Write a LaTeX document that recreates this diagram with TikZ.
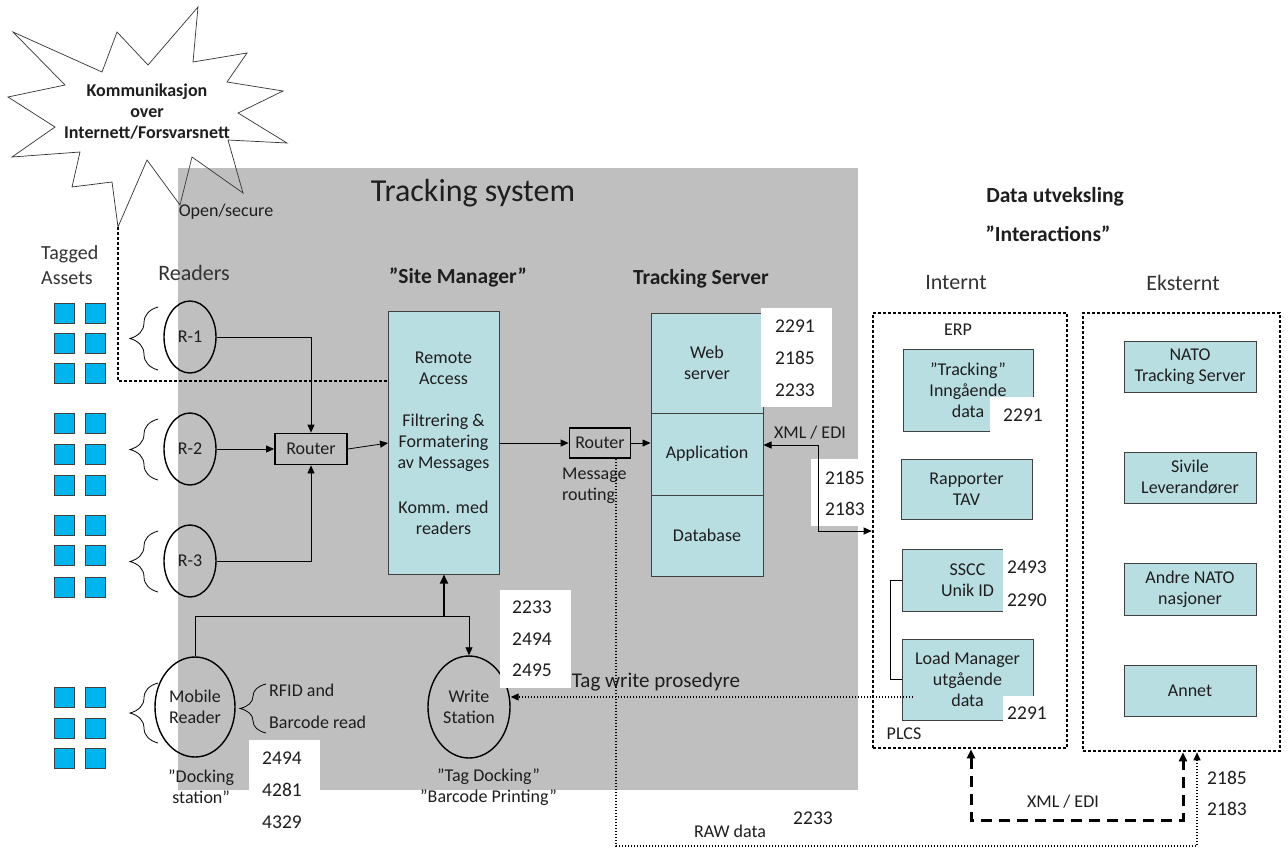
\documentclass[tikz,border=0pt]{standalone}
\usepackage{fontspec}
\setmainfont{Carlito}
\usetikzlibrary{shapes.geometric,arrows.meta,decorations.pathreplacing}

\definecolor{grayc}{RGB}{191,191,191}
\definecolor{boxc}{RGB}{185,222,226}
\definecolor{assetc}{RGB}{0,180,238}
\definecolor{inkc}{RGB}{30,30,30}

\tikzset{
  txt/.style={font=\fontsize{18}{21}\selectfont, align=center, inner sep=0pt, text=inkc},
  btxt/.style={font=\bfseries\fontsize{21.5}{25}\selectfont, align=center, inner sep=0pt, text=inkc},
  big/.style={font=\fontsize{22}{25}\selectfont, align=left, inner sep=0pt, text=black!80},
  num/.style={font=\fontsize{19.5}{21}\selectfont, inner sep=0pt, text=inkc},
  cbox/.style={draw=black!75, fill=boxc, line width=1pt, inner sep=0pt, txt},
  asset/.style={draw=black!75, fill=assetc, line width=0.8pt, minimum size=20pt, inner sep=0pt},
  rdr/.style={ellipse, draw=black, line width=1.4pt, inner sep=0pt, txt},
  rtr/.style={draw=black, line width=1.8pt, fill=grayc, inner sep=0pt, txt},
  arr/.style={-{Triangle[length=8pt,width=7pt]}, line width=0.8pt},
  twoarr/.style={{Triangle[length=8pt,width=7pt]}-{Triangle[length=8pt,width=7pt]}, line width=0.8pt},
  link/.style={line width=0.8pt},
  zone/.style={draw=black, line width=2.6pt, dash pattern=on 2.6pt off 2.4pt, inner sep=0pt},
  netdots/.style={line width=2.8pt, dash pattern=on 2.6pt off 2.4pt},
  finedots/.style={line width=1.2pt, dash pattern=on 1.4pt off 1.6pt},
  heavydash/.style={line width=3pt, dash pattern=on 11pt off 7pt,
    {Triangle[length=9pt,width=8pt]}-{Triangle[length=9pt,width=8pt]}},
  patch/.style={fill=white, draw=none, inner sep=0pt, outer sep=0pt, anchor=north west},
  grp/.style={decorate, decoration={brace, amplitude=28pt}, line width=0.8pt},
  grpsmall/.style={decorate, decoration={brace, amplitude=26pt}, line width=0.8pt}
}

\begin{document}
\begin{tikzpicture}[x=1pt,y=-1pt]
\useasboundingbox (0,0) rectangle (1288,847);
\fill[white] (0,0) rectangle (1288,847);

% tracking system area
\node[fill=grayc, draw=none, minimum width=680, minimum height=622, inner sep=0pt, anchor=north west] (sys) at (178,168) {};
\node[font=\fontsize{32}{36}\selectfont, text=inkc, inner sep=0pt] (systitle) at (473,193) {Tracking system};

% network cloud
\draw[line width=0.7pt, black!80] (13,32) -- (102,72) -- (117,32) -- (148,65) -- (198,7) -- (193,62)
  -- (247,53) -- (227,82) -- (283,91) -- (238,113) -- (287,143) -- (228,140) -- (243,193)
  -- (192,157) -- (180,205) -- (147,160) -- (118,227) -- (112,182) -- (72,187) -- (80,152)
  -- (12,157) -- (55,127) -- (8,97) -- (65,85) -- cycle;
\coordinate (startip) at (118,227);
\node[btxt, font=\bfseries\fontsize{18}{21}\selectfont] (cloud) at (147,112) {Kommunikasjon\\over\\Internett/Forsvarsnett};
\node[txt] (opensec) at (226,212) {Open/secure};

% headings
\node[big, font=\fontsize{20}{25}\selectfont, anchor=west] (tagged) at (41,265) {Tagged\\Assets};
\node[big] (readers) at (194,273) {Readers};
\node[btxt] (smtitle) at (458,277) {”Site Manager”};
\node[btxt] (tstitle) at (701,279) {Tracking Server};
\node[btxt] (dx) at (1055,197) {Data utveksling};
\node[btxt] (inter) at (1048,234) {”Interactions”};
\node[big] (interntl) at (956,283) {Internt};
\node[big] (eksterntl) at (1183,283) {Eksternt};

% tagged assets
\foreach \r [count=\i] in {313,343,373,423,454,485,525,555,587,697,728,758} {
  \node[asset] (a\i l) at (64,\r) {};
  \node[asset] (a\i r) at (95,\r) {};
}

% readers
\node[rdr, minimum width=52, minimum height=72] (r1) at (190,337) {R-1};
\node[rdr, minimum width=52, minimum height=72] (r2) at (190,449) {R-2};
\node[rdr, minimum width=52, minimum height=72] (r3) at (190,561) {R-3};
\node[rdr, minimum width=80, minimum height=100] (mobile) at (195,707) {Mobile\\Reader};
\node[rdr, minimum width=82, minimum height=102] (write) at (469,707) {Write\\Station};

\draw[grp] (158,370) -- (158,307);
\draw[grp] (158,480) -- (158,419);
\draw[grp] (158,592) -- (158,531);
\draw[grp] (158,743) -- (158,683);
\draw[grpsmall] (266,733) -- (266,684);

\node[txt, anchor=west] (rfid) at (269,690) {RFID and};
\node[txt, anchor=west] (bcr) at (269,722) {Barcode read};
\node[txt, anchor=west] (dock) at (168,787) {”Docking\\station”};
\node[txt, anchor=west] (tagdock) at (420,787) {”Tag Docking”\\”Barcode Printing”};

% routers and site manager
\node[rtr, minimum width=72, minimum height=31] (rt1) at (311,449) {Router};
\node[cbox, minimum width=111, minimum height=263] (sm) at (443.5,442.5) {};
\node[txt] (smra) at (443.5,368) {Remote\\Access};
\node[txt] (smff) at (443.5,443) {Filtrering \&\\Formatering\\av Messages};
\node[txt] (smkm) at (443.5,517.5) {Komm. med\\readers};
\node[rtr, minimum width=61, minimum height=30] (rt2) at (600,443) {Router};
\node[txt, align=left, anchor=west] (msgr) at (562,486) {Message\\routing};

% tracking server
\node[cbox, minimum width=112, minimum height=100] (web) at (707,363) {Web\\server};
\node[cbox, minimum width=112, minimum height=82] (app) at (707,454) {Application};
\node[cbox, minimum width=112, minimum height=81] (db) at (707,535.5) {Database};

% port number patches
\node[patch, minimum width=71, minimum height=99] (p1) at (761,308) {};
\node[num] (n11) at (795,326) {2291};
\node[num] (n12) at (795,358) {2185};
\node[num] (n13) at (795,390) {2233};
\node[patch, minimum width=55, minimum height=67] (p2) at (811,459) {};
\node[num] (n21) at (845,478) {2185};
\node[num] (n22) at (845,509) {2183};
\node[patch, minimum width=71, minimum height=98] (p3) at (500,590) {};
\node[num] (n31) at (532,607) {2233};
\node[num] (n32) at (532,639) {2494};
\node[num] (n33) at (532,670) {2495};
\node[patch, minimum width=71, minimum height=50] (p4) at (249,740) {};
\node[num] (n41) at (282,758) {2494};
\node[num] (n42) at (282,790) {4281};
\node[num] (n43) at (282,822) {4329};

% internal and external zones
\node[zone, minimum width=194, minimum height=435] (intbox) at (970,530.5) {};
\node[zone, minimum width=197, minimum height=438] (extbox) at (1181.5,532) {};
\node[txt] (erp) at (958,330) {ERP};
\node[txt] (plcs) at (904,734) {PLCS};

\node[cbox, minimum width=130, minimum height=82] (trk) at (968,390) {”Tracking”\\Inngående\\data};
\node[cbox, minimum width=131, minimum height=60] (rap) at (966.5,489) {Rapporter\\TAV};
\node[cbox, minimum width=131, minimum height=62] (sscc) at (967.5,580) {SSCC\\Unik ID};
\node[cbox, minimum width=131, minimum height=81] (load) at (967.5,679.5) {Load Manager\\utgående\\data};

\node[patch, minimum width=51, minimum height=35] (p5) at (990,397) {};
\node[num] (n51) at (1023,415) {2291};
\node[patch, minimum width=52, minimum height=68] (p6) at (1003,546) {};
\node[num] (n61) at (1027,567) {2493};
\node[num] (n62) at (1027,600) {2290};
\node[patch, minimum width=52, minimum height=29] (p7) at (1003,696) {};
\node[num] (n71) at (1027,713) {2291};

\node[cbox, minimum width=132, minimum height=51] (nato) at (1190,366.5) {NATO\\Tracking Server};
\node[cbox, minimum width=132, minimum height=51] (sivile) at (1190,477.5) {Sivile\\Leverandører};
\node[cbox, minimum width=132, minimum height=52] (andre) at (1190,589) {Andre NATO\\nasjoner};
\node[cbox, minimum width=132, minimum height=51] (annet) at (1190,690.5) {Annet};

% connectors inside the tracking system
\draw[arr] (r1.east) -| (rt1.north);
\draw[arr] (r2.east) -- (rt1.west);
\draw[arr] (r3.east) -| (rt1.south);
\coordinate (smin) at (388,443);
\draw[arr] (rt1.east) -- (smin);
\draw[arr] (sm.east |- rt2.west) -- (rt2.west);
\draw[arr] (rt2.east) -- (app.west |- rt2.east);

\coordinate (jn) at (444,616);
\draw[link] (mobile.north) |- (jn);
\draw[arr] (jn) -| (write.north);
\draw[-{Triangle[length=9pt,width=8pt]}, line width=2pt] (jn) -- (sm.south -| jn);

% remote access from the network cloud
\coordinate (remrow) at (0,381);
\draw[netdots] (startip) |- (sm.west |- remrow);

% exchange with the internal systems
\coordinate (xbend) at (818,445);
\coordinate (xrow) at (0,531);
\draw[twoarr] (app.east |- xbend) -- (xbend) |- (intbox.west |- xrow);
\node[txt] (xml1) at (810,433) {XML / EDI};

\draw[link] (sscc.west) -- ++(-11,0) |- (load.west);

% tag write procedure
\coordinate (twstart) at (913,697);
\draw[finedots, -{Triangle[length=8pt,width=7pt]}] (twstart) -- (write.east |- twstart);
\node[txt, font=\fontsize{21}{23}\selectfont] (twlabel) at (656,682) {Tag write prosedyre};

% raw data to external systems
\coordinate (rawcorner) at (616,846);
\coordinate (rawend) at (1197,846);
\draw[finedots, -{Triangle[length=8pt,width=7pt]}] (rt2.south -| rawcorner) -- (rawcorner) -- (rawend) -- (extbox.south -| rawend);
\node[txt] (rawl) at (730,831) {RAW data};
\node[num] (n81) at (813,818) {2233};
\node[num] (n91) at (1227,778) {2185};
\node[num] (n92) at (1227,809) {2183};

% internal <-> external exchange
\coordinate (dA) at (971,820);
\coordinate (dB) at (1183,820);
\draw[heavydash] (intbox.south -| dA) -- (dA) -- (dB) -- (extbox.south -| dB);
\node[txt] (xml2) at (1063,802) {XML / EDI};
\end{tikzpicture}
\end{document}
